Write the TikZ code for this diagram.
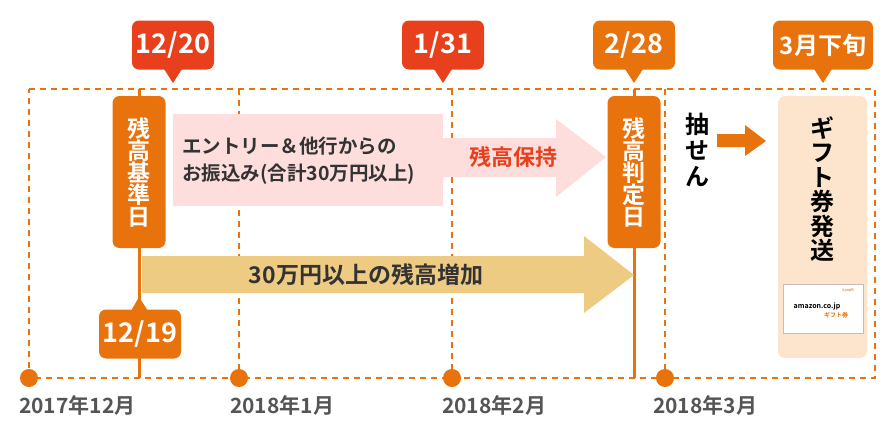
\documentclass[tikz,border=0pt]{standalone}
\usepackage{fontspec}
\setmainfont{Noto Sans CJK JP}[BoldFont={* Bold}]
\newfontfamily\jpb{Noto Sans CJK JP Bold}
\definecolor{org}{HTML}{E8720C}
\definecolor{rd}{HTML}{E8401C}
\definecolor{pinkbg}{HTML}{FDDEDC}
\definecolor{gold}{HTML}{EDCB82}
\definecolor{giftbg}{HTML}{FCE5CC}
\definecolor{txt}{HTML}{333333}
\definecolor{gr}{HTML}{555555}
\begin{document}
\begin{tikzpicture}[x=1pt,y=-1pt,
  dsh/.style={org,line width=2.5pt,dash pattern=on 6pt off 5pt},
  call/.style={rounded corners=7pt,minimum width=82pt,minimum height=49pt,text=white,font=\jpb\fontsize{27}{29}\selectfont,inner sep=0pt},
  vbox/.style={fill=org,rounded corners=7pt,minimum width=53pt,minimum height=152pt,text=white,font=\jpb\fontsize{23}{25}\selectfont,align=center,inner sep=0pt},
  mon/.style={text=gr,font=\jpb\fontsize{21}{23}\selectfont,anchor=west,inner sep=0pt},
  dot/.style={circle,fill=org,minimum size=18pt,inner sep=0pt}]
\useasboundingbox (0,0) rectangle (893,431);
% dashed frame
\draw[dsh] (29,89) -- (875,89) -- (875,378) -- (29,378) -- cycle;
\foreach \x in {239,452,665} \draw[dsh] (\x,89) -- (\x,378);
% dots and months
\node[dot] (d1) at (29,378) {}; \node[dot] (d2) at (239,378) {};
\node[dot] (d3) at (452,378) {}; \node[dot] (d4) at (665,378) {};
\node[mon] (m1) at (19,405) {2017年12月};
\node[mon] (m2) at (230,405) {2018年1月};
\node[mon] (m3) at (442,405) {2018年2月};
\node[mon] (m4) at (653,405) {2018年3月};
% solid verticals
\draw[org,line width=3pt] (139,89) -- (139,378);
\draw[org,line width=3pt] (634,89) -- (634,378);
% pink band and arrow
\fill[pinkbg] (173,114) rectangle (443,206);
\fill[pinkbg] (443,138) -- (556,138) -- (556,119) -- (606,157) -- (556,197) -- (556,177) -- (443,177) -- cycle;
\node[anchor=west,text=txt,font=\jpb\fontsize{19.5}{27}\selectfont,align=left,inner sep=0pt] (pt) at (182,161) {エントリー＆他行からの\\お振込み(合計30万円以上)};
\node[text=rd,font=\jpb\fontsize{22}{24}\selectfont,inner sep=0pt] (hold) at (513,157) {残高保持};
% gold arrow
\fill[gold] (142,256) -- (584,256) -- (584,236) -- (634,275) -- (584,313) -- (584,293) -- (142,293) -- cycle;
\node[text=txt,font=\jpb\fontsize{23}{25}\selectfont,inner sep=0pt] (ga) at (366,275) {30万円以上の残高増加};
% vertical boxes
\node[vbox] (b1) at (139,172) {残\\[-3pt]高\\[-3pt]基\\[-3pt]準\\[-3pt]日};
\node[vbox] (b2) at (634,172) {残\\[-3pt]高\\[-3pt]判\\[-3pt]定\\[-3pt]日};
% callouts
\node[call,fill=rd] (c1) at (173,45) {12/20};
\fill[rd] (164,69) -- (173,83) -- (182,69) -- cycle;
\node[call,fill=rd] (c2) at (443,45) {1/31};
\fill[rd] (434,69) -- (443,83) -- (452,69) -- cycle;
\node[call,fill=org] (c3) at (634,45) {2/28};
\fill[org] (625,69) -- (634,83) -- (643,69) -- cycle;
\node[call,fill=org,minimum width=100pt,font=\jpb\fontsize{24}{26}\selectfont] (c4) at (823,45) {3月下旬};
\fill[org] (814,69) -- (823,83) -- (832,69) -- cycle;
\node[call,fill=org] (c5) at (140,334) {12/19};
\fill[org] (131,311) -- (139,297) -- (148,311) -- cycle;
% lottery
\node[text=black,font=\jpb\fontsize{24}{26}\selectfont,align=center,inner sep=0pt] (lot) at (697,150) {抽\\せ\\ん};
\fill[org] (717,134) -- (745,134) -- (745,125) -- (766,141) -- (745,156) -- (745,147) -- (717,147) -- cycle;
% gift box
\fill[giftbg,rounded corners=7pt] (778,96) rectangle (867,358);
\node[text=black,font=\jpb\fontsize{24}{24.5}\selectfont,align=center,inner sep=0pt] (gift) at (822,189) {ギ\\フ\\ト\\券\\発\\送};
\draw[fill=white,draw=black!25,line width=0.8pt] (783,284) rectangle (863,333);
\node[font=\jpb\fontsize{3}{4}\selectfont,text=org,inner sep=0pt] (amt) at (848,291) {5,000円};
\node[font=\jpb\fontsize{7}{8}\selectfont,text=black,inner sep=0pt] (amz) at (817,306) {amazon.co.jp};
\node[font=\jpb\fontsize{6}{7}\selectfont,text=org,inner sep=0pt] (gc) at (836,315) {ギフト券};
\end{tikzpicture}
\end{document}
